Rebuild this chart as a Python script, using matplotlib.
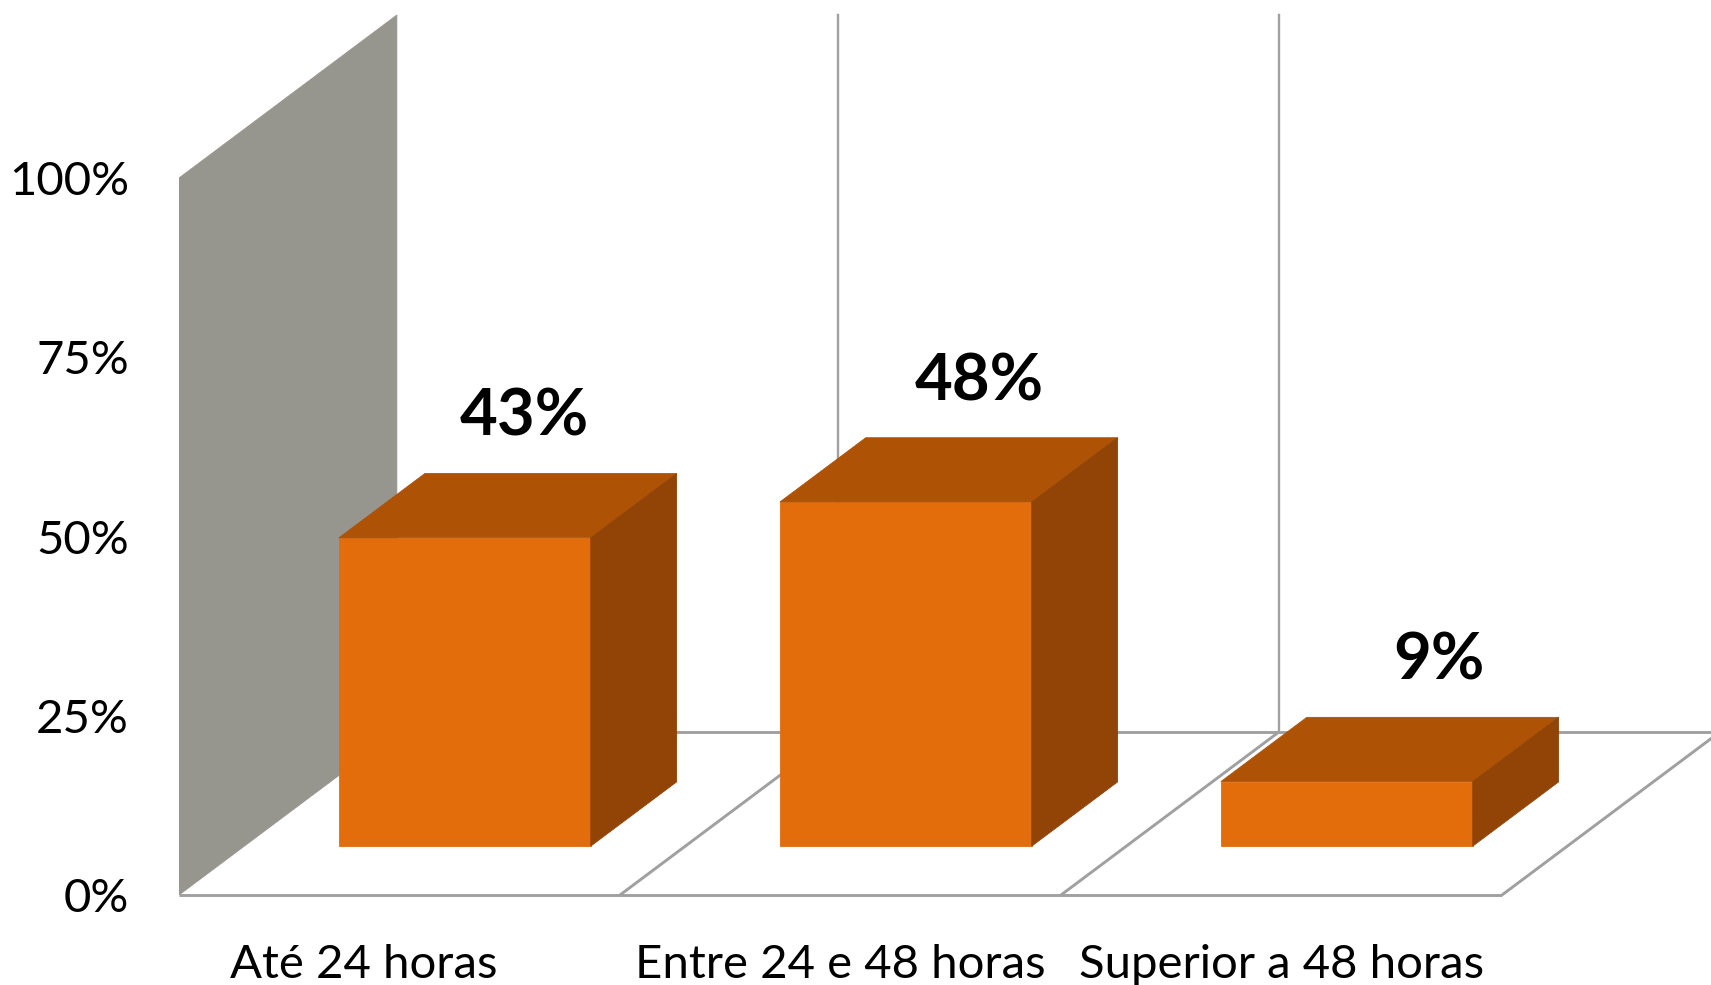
import matplotlib.pyplot as plt
from matplotlib.patches import Polygon

categories = ['Até 24 horas', 'Entre 24 e 48 horas', 'Superior a 48 horas']
values = [43, 48, 9]
value_labels = ['43%', '48%', '9%']
yticks = [0, 25, 50, 75, 100]
ytick_labels = ['0%', '25%', '50%', '75%', '100%']

plt.rcParams['font.family'] = ['Lato', 'DejaVu Sans']

FRONT = '#E36C0B'
TOP = '#AE5206'
SIDE = '#924407'
WALL = '#96958E'
GRID = '#A0A0A0'

# oblique projection: one unit of depth shifts right / up by this much (data units)
DX, DY = 0.494, 22.73
Z0, Z1 = 0.30, 0.694        # bar depth range
BAR_W = 0.571
label_dx = [0.136, 0.166, 0.209]   # excel nudges the value labels right a bit
cat_dx = [-0.08, 0, 0]             # and the first category label left


def proj(x, y, z):
    return (x + z * DX, y + z * DY)


def face(ax, pts, color, z=2):
    ax.add_patch(Polygon([proj(*p) for p in pts], closed=True, facecolor=color,
                         edgecolor=color, lw=0.6, zorder=z))


fig = plt.figure(figsize=(17.11, 9.85), dpi=100)
ax = fig.add_axes([179 / 1711, 0, 1 - 179 / 1711, 1])
ax.set_xlim(0, 1532 / 441)
ax.set_ylim(-90 / 7.17, 895 / 7.17)
for s in ax.spines.values():
    s.set_visible(False)
ax.set_xticks([])
ax.set_yticks(yticks, ytick_labels, fontsize=34)
ax.tick_params(axis='y', length=0, pad=36)

n = len(categories)

# side wall
face(ax, [(0, 0, 0), (0, 100, 0), (0, 100, 1), (0, 0, 1)], WALL, z=1)

# back wall gridlines
for i in range(1, n + 1):
    xs, ys = zip(proj(i, 0, 1), proj(i, 100, 1))
    ax.plot(xs, ys, color=GRID, lw=1.7, zorder=1)

# floor outline
for a, b in [((0, 0, 0), (n, 0, 0)), ((0, 0, 1), (n, 0, 1))] + \
        [((i, 0, 0), (i, 0, 1)) for i in range(1, n + 1)]:
    xs, ys = zip(proj(*a), proj(*b))
    ax.plot(xs, ys, color=GRID, lw=2.1, zorder=1, solid_capstyle='butt')

# bars
for i, v in enumerate(values):
    x0 = i + 0.5 - BAR_W / 2
    x1 = x0 + BAR_W
    face(ax, [(x0, 0, Z0), (x1, 0, Z0), (x1, v, Z0), (x0, v, Z0)], FRONT, z=3)
    face(ax, [(x0, v, Z0), (x1, v, Z0), (x1, v, Z1), (x0, v, Z1)], TOP, z=3)
    face(ax, [(x1, 0, Z0), (x1, 0, Z1), (x1, v, Z1), (x1, v, Z0)], SIDE, z=3)
    lx, ly = proj(i + 0.5 + label_dx[i], v + 14.2, Z0)
    ax.text(lx, ly, value_labels[i], ha='center', va='baseline',
            fontsize=47, fontweight='bold', color='black', zorder=4)

# category labels
for i, c in enumerate(categories):
    ax.text(i + 0.5 + cat_dx[i], -11.6, c, ha='center', va='baseline',
            fontsize=34, color='black')

fig.savefig('out.png', dpi=100)
